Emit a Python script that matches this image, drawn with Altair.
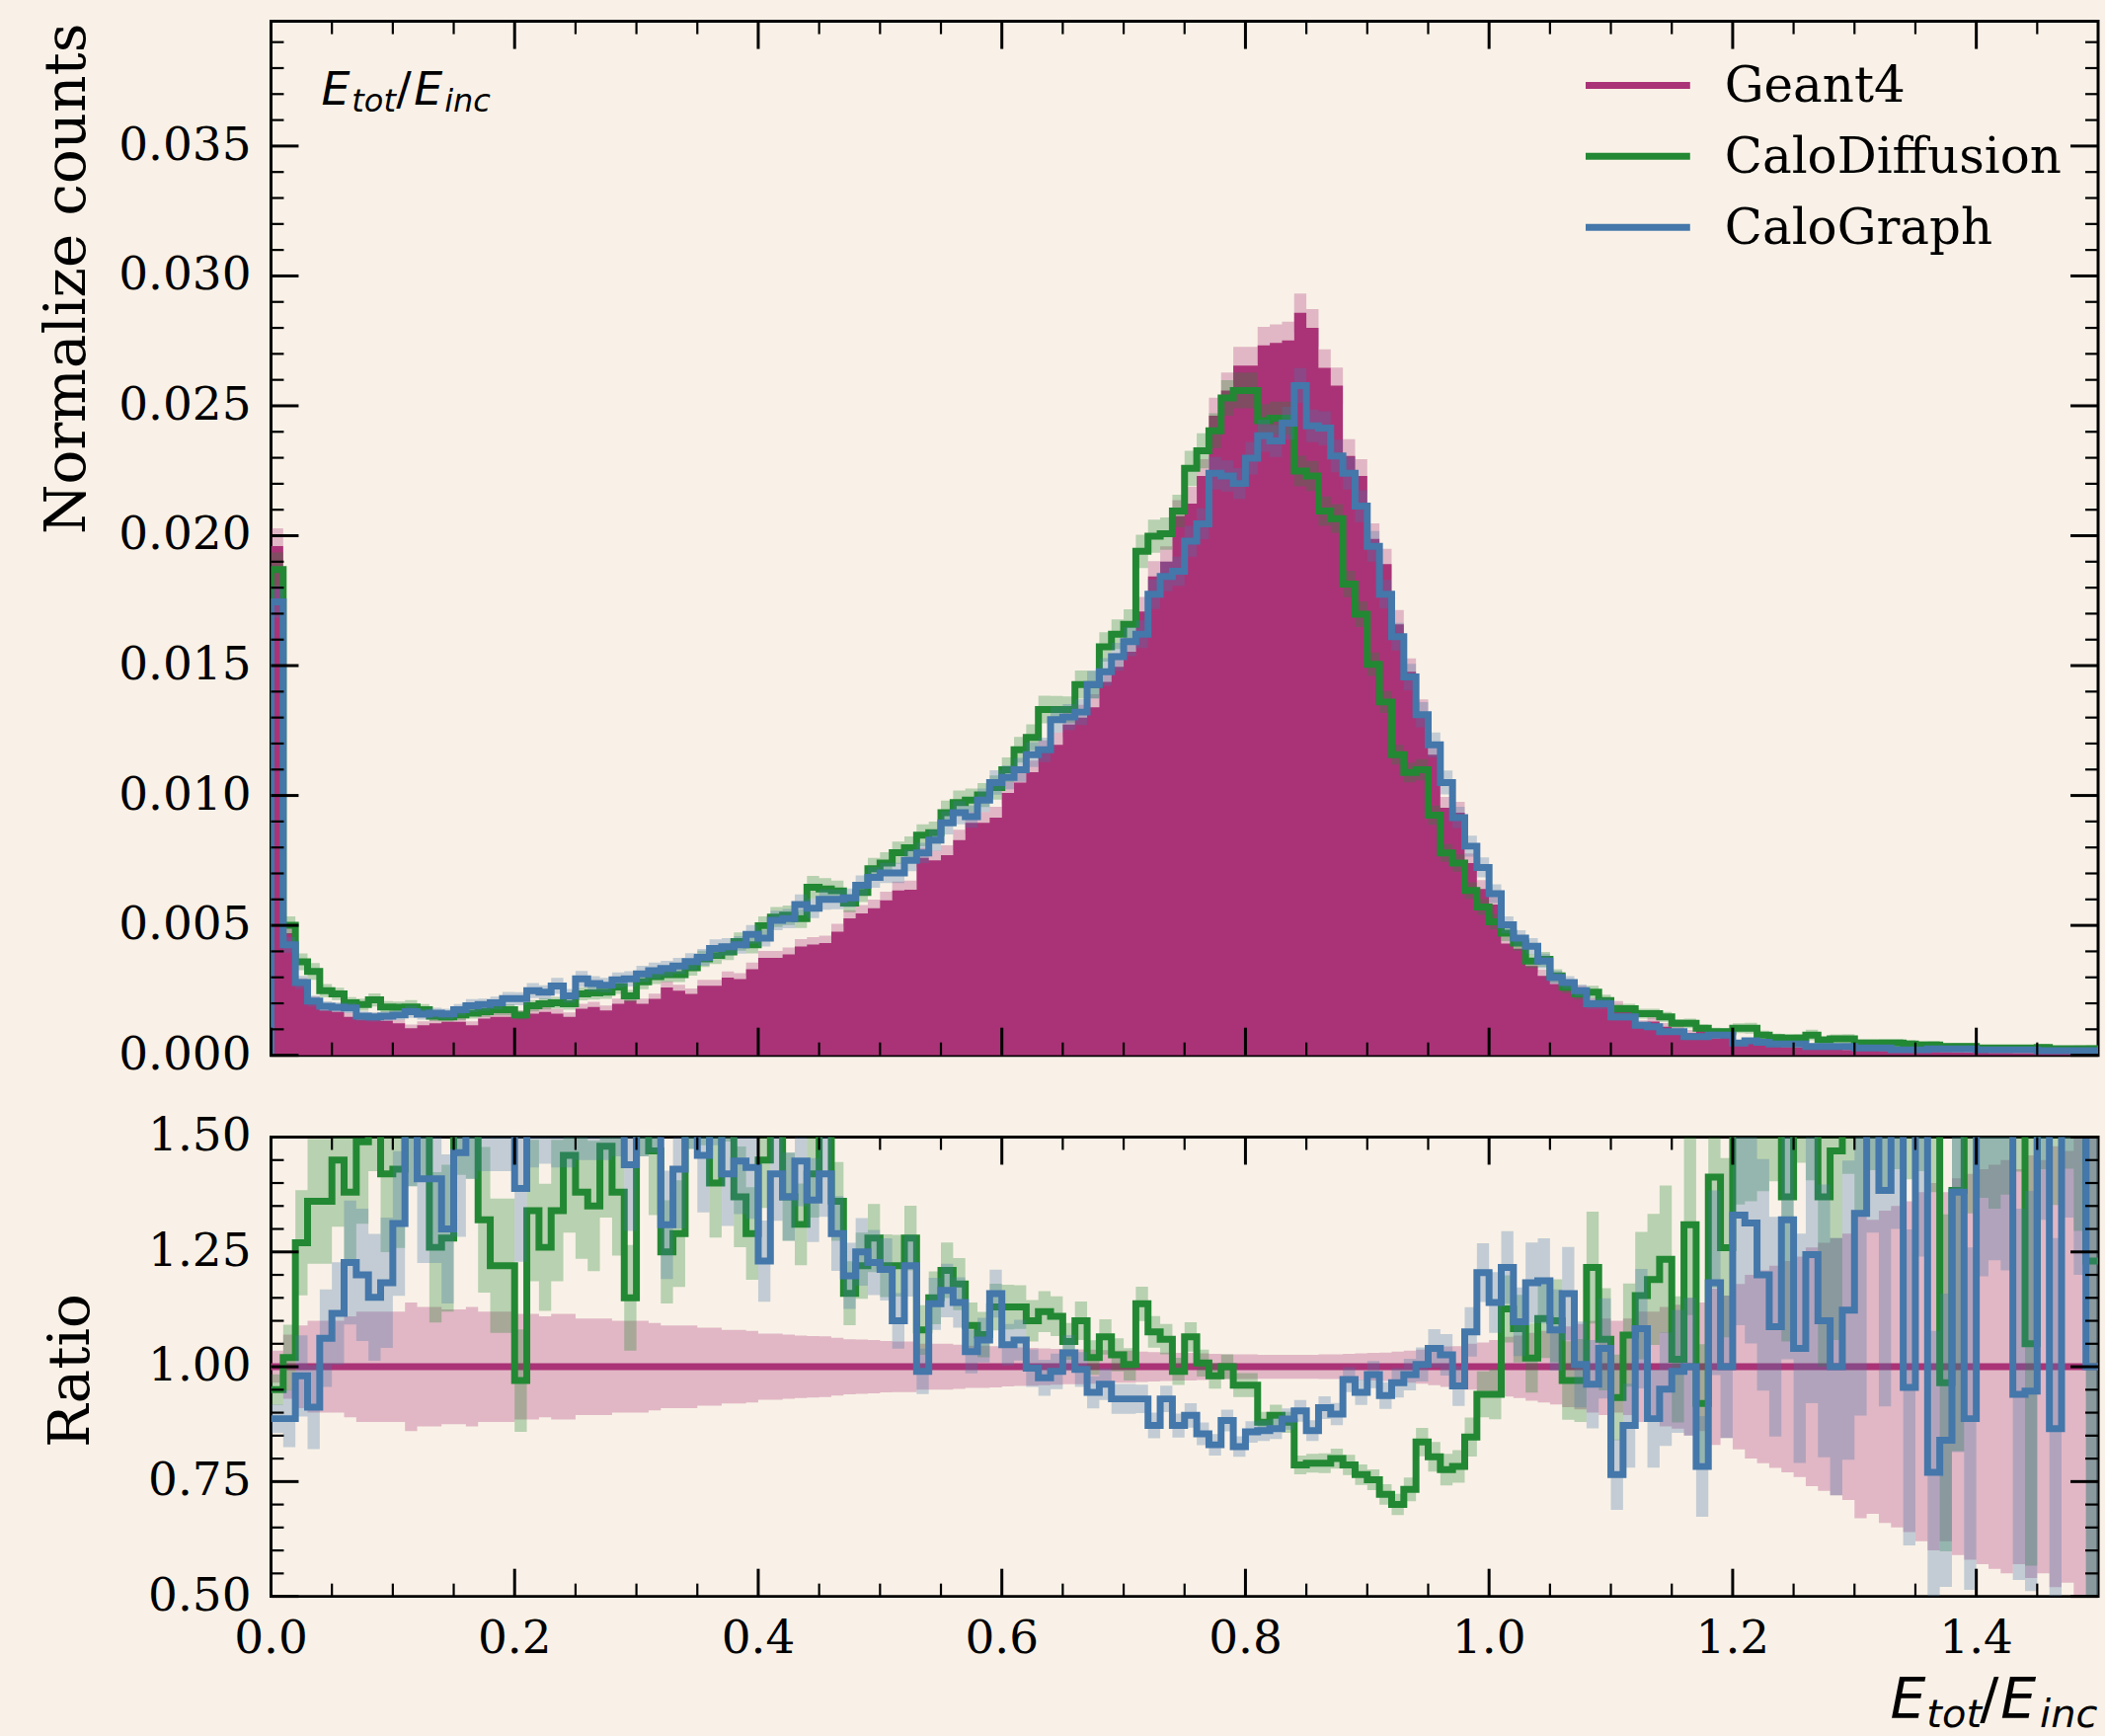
import altair as alt
import pandas as pd

# ---------------- data ----------------
bin_edges = [round(0.01 * i, 2) for i in range(151)]

geant4 = [
    0.0196, 0.0047, 0.00272, 0.00205, 0.00173, 0.00167, 0.00148, 0.00138, 0.00138, 0.00133,
    0.00123, 0.00104, 0.00116, 0.00123, 0.00129, 0.00129, 0.00116, 0.00141, 0.00148, 0.00148,
    0.00154, 0.0016, 0.00167, 0.0016, 0.00148, 0.00179, 0.00186, 0.00173, 0.00198, 0.00211,
    0.00198, 0.00217, 0.00261, 0.00249, 0.00236, 0.00268, 0.00268, 0.00299, 0.00293, 0.00331,
    0.00375, 0.00375, 0.00388, 0.00419, 0.00426, 0.00432, 0.00476, 0.00527, 0.00546, 0.00566,
    0.00596, 0.00634, 0.00637, 0.0076, 0.0075, 0.0077, 0.00828, 0.00895, 0.00895, 0.00915,
    0.0101, 0.0105, 0.0109, 0.01166, 0.01195, 0.01273, 0.0130, 0.0134, 0.01437, 0.01495,
    0.01553, 0.01708, 0.01843, 0.0190, 0.02075, 0.02124, 0.0223, 0.02462, 0.02559, 0.02655,
    0.02655, 0.02733, 0.02742, 0.02752, 0.02858, 0.0280, 0.02646, 0.02578, 0.02307, 0.0223,
    0.01988, 0.01891, 0.01659, 0.01476, 0.01321, 0.01157, 0.00953, 0.00934, 0.0074, 0.0064,
    0.0058, 0.0043, 0.0041, 0.00344, 0.00306, 0.00274, 0.00255, 0.00245, 0.0020, 0.0019,
    0.0019, 0.0017, 0.0012, 0.0013, 0.0011, 0.0010, 0.00085, 0.00095, 0.00065, 0.00075,
    0.0005, 0.00045, 0.0004, 0.00036, 0.00032, 0.0003, 0.00027, 0.00025, 0.00023, 0.00021,
    0.0002, 0.00018, 0.00017, 0.00016, 0.00015, 0.00014, 0.00013, 0.00012, 0.00011, 0.0001,
    0.0001, 0.00009, 0.00009, 0.00008, 0.00008, 0.00007, 0.00007, 0.00006, 0.00006, 0.00005,
]

calodiffusion = [
    0.0187, 0.0050, 0.0036, 0.00323, 0.00249, 0.00236, 0.00202, 0.00195, 0.00213, 0.00186,
    0.00185, 0.00186, 0.00175, 0.00151, 0.00148, 0.00155, 0.00162, 0.00168, 0.00175, 0.00175,
    0.00155, 0.00191, 0.00198, 0.00202, 0.00198, 0.00236, 0.0024, 0.00243, 0.00263, 0.00229,
    0.00283, 0.00303, 0.0031, 0.0031, 0.00337, 0.00371, 0.00384, 0.00398, 0.00438, 0.00425,
    0.00499, 0.00532, 0.00539, 0.00526, 0.00647, 0.0064, 0.00633, 0.00586, 0.00627, 0.00718,
    0.0074, 0.0078, 0.00799, 0.00847, 0.00857, 0.00934, 0.00973, 0.00982, 0.01002, 0.01031,
    0.01099, 0.01176, 0.01224, 0.01331, 0.01331, 0.01331, 0.01427, 0.01427, 0.01572, 0.01621,
    0.01659, 0.0194, 0.01998, 0.02008, 0.02095, 0.02259, 0.02327, 0.02404, 0.0253, 0.02559,
    0.02559, 0.02443, 0.02452, 0.02452, 0.02249, 0.0223, 0.02095, 0.02066, 0.01814, 0.01698,
    0.01505, 0.0136, 0.01157, 0.01089, 0.01099, 0.00924, 0.00779, 0.0074, 0.00634, 0.00571,
    0.00514, 0.0047, 0.00432, 0.00363, 0.00369, 0.00306, 0.00262, 0.00236, 0.00243, 0.00211,
    0.00179, 0.00179, 0.0016, 0.0016, 0.00148, 0.00123, 0.00123, 0.00104, 0.00091, 0.00091,
    0.00104, 0.00104, 0.00078, 0.00068, 0.00066, 0.00066, 0.00078, 0.00059, 0.00063, 0.00063,
    0.00047, 0.00047, 0.00047, 0.00047, 0.00043, 0.0004, 0.0004, 0.00034, 0.00034, 0.00034,
    0.00028, 0.00028, 0.00028, 0.00028, 0.00028, 0.0003, 0.00025, 0.00025, 0.00025, 0.00025,
]

calograph = [
    0.01745, 0.00425, 0.0028, 0.00209, 0.00189, 0.00185, 0.00182, 0.00151, 0.00148, 0.00151,
    0.00155, 0.00168, 0.00158, 0.00162, 0.00159, 0.00175, 0.00191, 0.00195, 0.00202, 0.00218,
    0.00218, 0.00249, 0.00243, 0.00267, 0.00229, 0.00294, 0.00276, 0.0027, 0.0029, 0.00294,
    0.00313, 0.00326, 0.00334, 0.00344, 0.00361, 0.00377, 0.00411, 0.00418, 0.00425, 0.00465,
    0.00451, 0.00519, 0.00526, 0.0058, 0.00566, 0.006, 0.006, 0.00606, 0.00654, 0.00685,
    0.00702, 0.00702, 0.0075, 0.00779, 0.00828, 0.00895, 0.00934, 0.00919, 0.00982, 0.0105,
    0.0107, 0.01099, 0.01157, 0.01176, 0.01292, 0.01302, 0.01321, 0.01427, 0.01476, 0.01534,
    0.01592, 0.01621, 0.01775, 0.01843, 0.01863, 0.01979, 0.02046, 0.0224, 0.0223, 0.02201,
    0.02298, 0.02385, 0.02365, 0.02433, 0.02578, 0.02423, 0.02414, 0.02307, 0.0224, 0.02114,
    0.01959, 0.01775, 0.01611, 0.01456, 0.01311, 0.01195, 0.0105, 0.00915, 0.00805, 0.00723,
    0.00622, 0.00502, 0.00451, 0.0042, 0.00363, 0.003, 0.0028, 0.00249, 0.00198, 0.00198,
    0.00148, 0.00148, 0.00116, 0.0011, 0.00091, 0.00091, 0.00072, 0.00072, 0.00078, 0.00078,
    0.00047, 0.00056, 0.0005, 0.00043, 0.00043, 0.00043, 0.00034, 0.00034, 0.00034, 0.00034,
    0.00028, 0.00028, 0.00028, 0.00021, 0.00021, 0.00021, 0.00024, 0.00024, 0.00024, 0.00024,
    0.00021, 0.00021, 0.00021, 0.00021, 0.00021, 0.00018, 0.00018, 0.00018, 0.00018, 0.00018,
]

ratio_calodiffusion = [
    0.95, 1.02, 1.27, 1.36, 1.36, 1.45, 1.38, 1.49, 1.62, 1.42,
    1.43, 1.62, 1.62, 1.26, 1.28, 1.62, 1.62, 1.32, 1.22, 1.22,
    0.97, 1.34, 1.26, 1.34, 1.46, 1.38, 1.35, 1.48, 1.38, 1.15,
    1.62, 1.47, 1.25, 1.29, 1.62, 1.62, 1.40, 1.62, 1.37, 1.29,
    1.45, 1.62, 1.37, 1.31, 1.42, 1.62, 1.36, 1.16, 1.22, 1.28,
    1.22, 1.22, 1.28, 1.08, 1.15, 1.21, 1.18, 1.09, 1.07, 1.13,
    1.13, 1.13, 1.10, 1.12, 1.11, 1.055, 1.10, 1.02, 1.065, 1.026,
    1.005, 1.137, 1.076, 1.06, 0.99, 1.065, 1.008, 0.98, 1.0, 0.96,
    0.96, 0.879, 0.894, 0.879, 0.786, 0.79, 0.79, 0.80, 0.786, 0.765,
    0.754, 0.722, 0.70, 0.733, 0.836, 0.804, 0.776, 0.783, 0.847, 0.94,
    0.94, 1.126, 1.083, 1.019, 1.105, 1.10, 0.97, 0.97, 1.216, 1.06,
    0.933, 1.069, 1.155, 1.19, 1.234, 1.016, 1.309, 0.92, 1.413, 1.259,
    1.65, 1.7, 1.75, 1.8, 1.37, 1.9, 1.9, 1.37, 1.47, 2.0,
    2.0, 2.1, 2.1, 2.2, 2.2, 2.3, 2.3, 0.965, 1.384, 2.3,
    2.4, 2.4, 2.5, 2.5, 1.05, 2.6, 2.6, 2.7, 2.7, 1.23,
]

ratio_calograph = [
    0.887, 0.887, 0.98, 0.912, 1.062, 1.116, 1.227, 1.20, 1.151, 1.183,
    1.312, 1.62, 1.409, 1.409, 1.30, 1.466, 1.62, 1.62, 1.62, 1.62,
    1.388, 1.62, 1.62, 1.62, 1.62, 1.62, 1.62, 1.62, 1.62, 1.44,
    1.62, 1.62, 1.309, 1.43, 1.62, 1.46, 1.62, 1.42, 1.448, 1.434,
    1.23, 1.42, 1.37, 1.448, 1.363, 1.42, 1.29, 1.198, 1.25, 1.227,
    1.212, 1.10, 1.22, 0.99, 1.137, 1.166, 1.14, 1.033, 1.058, 1.159,
    1.048, 1.058, 0.997, 0.976, 0.99, 1.03, 0.994, 0.944, 0.962, 0.93,
    0.93, 0.93, 0.872, 0.93, 0.872, 0.894, 0.854, 0.83, 0.883, 0.826,
    0.858, 0.861, 0.865, 0.886, 0.904, 0.861, 0.911, 0.897, 0.972, 0.944,
    0.983, 0.937, 0.965, 0.983, 1.005, 1.04, 1.026, 0.958, 1.076, 1.205,
    1.14, 1.216, 1.098, 1.183, 1.187, 1.08, 1.159, 1.005, 0.962, 1.04,
    0.765, 0.872, 1.083, 0.887, 0.951, 0.99, 1.0, 0.783, 1.183, 1.0,
    1.33, 1.313, 1.20, 1.087, 1.32, 1.04, 1.244, 1.10, 1.0, 1.123,
    1.334, 1.9, 1.384, 2.0, 0.955, 2.0, 0.77, 0.84, 1.38, 0.887,
    2.1, 2.2, 2.2, 0.94, 0.947, 2.4, 0.865, 2.5, 2.5, 1.0,
]

# relative statistical uncertainty per bin (half width of the bands)
rel_err = [
    0.035, 0.07, 0.09, 0.10, 0.10, 0.10, 0.11, 0.12, 0.12, 0.12,
    0.12, 0.14, 0.13, 0.13, 0.125, 0.125, 0.13, 0.12, 0.12, 0.12,
    0.115, 0.115, 0.11, 0.115, 0.115, 0.105, 0.105, 0.105, 0.10, 0.10,
    0.10, 0.095, 0.09, 0.09, 0.09, 0.085, 0.085, 0.08, 0.08, 0.078,
    0.072, 0.072, 0.07, 0.068, 0.067, 0.066, 0.063, 0.06, 0.059, 0.058,
    0.056, 0.055, 0.055, 0.05, 0.05, 0.05, 0.048, 0.046, 0.046, 0.045,
    0.043, 0.042, 0.041, 0.04, 0.039, 0.038, 0.038, 0.037, 0.036, 0.035,
    0.035, 0.033, 0.032, 0.031, 0.03, 0.03, 0.029, 0.028, 0.027, 0.027,
    0.027, 0.026, 0.026, 0.026, 0.026, 0.026, 0.027, 0.027, 0.028, 0.029,
    0.03, 0.031, 0.033, 0.035, 0.037, 0.04, 0.044, 0.045, 0.05, 0.053,
    0.058, 0.065, 0.068, 0.074, 0.078, 0.082, 0.088, 0.093, 0.10, 0.105,
    0.10, 0.105, 0.12, 0.12, 0.13, 0.135, 0.15, 0.14, 0.17, 0.155,
    0.18, 0.2, 0.21, 0.22, 0.23, 0.24, 0.26, 0.27, 0.28, 0.29,
    0.33, 0.32, 0.34, 0.35, 0.36, 0.38, 0.40, 0.38, 0.41, 0.42,
    0.43, 0.44, 0.45, 0.43, 0.46, 0.45, 0.48, 0.47, 0.52, 0.6,
]

reference_level = [1.0] * 150

series_names = ["Geant4", "CaloDiffusion", "CaloGraph"]
series_colors = ["#AA3377", "#228833", "#4477AA"]

x_major = [0.0, 0.2, 0.4, 0.6, 0.8, 1.0, 1.2, 1.4]
x_labels = ["0.0", "0.2", "0.4", "0.6", "0.8", "1.0", "1.2", "1.4"]
x_minor = [round(0.05 * k, 2) for k in range(1, 30) if k % 4]
yt_major = [0.0, 0.005, 0.010, 0.015, 0.020, 0.025, 0.030, 0.035]
yt_labels = ["0.000", "0.005", "0.010", "0.015", "0.020", "0.025", "0.030", "0.035"]
yt_minor = [round(0.001 * k, 3) for k in range(1, 40) if k % 5]
yr_major = [0.5, 0.75, 1.0, 1.25, 1.5]
yr_labels = ["0.50", "0.75", "1.00", "1.25", "1.50"]
yr_minor = [round(0.5 + 0.05 * k, 2) for k in range(1, 20) if k % 5]

# ---------------- styling ----------------
BG = "#F9F1E7"
W, HT, HR = 1854, 1049, 466
LW = 7
SERIF = "DejaVu Serif"
SANS = "DejaVu Sans"
TICK_FS = 47
TITLE_FS = 58

X = alt.Scale(domain=[0, 1.5], nice=False, zero=False)
YT = alt.Scale(domain=[0, 0.0398], nice=False, zero=False)
YR = alt.Scale(domain=[0.5, 1.5], nice=False, zero=False)

lefts = bin_edges[:-1]
end = bin_edges[-1]


def stairs(vals):
    xs = lefts + [end]
    ys = list(vals) + [vals[-1]]
    return pd.DataFrame({"x": xs, "y": ys, "o": list(range(len(xs)))})


def outline(vals):
    xs = [lefts[0]] + lefts + [end, end]
    ys = [0.0] + list(vals) + [vals[-1], 0.0]
    return pd.DataFrame({"x": xs, "y": ys, "o": list(range(len(xs)))})


def band(center, rel):
    lo = [c * (1 - r) for c, r in zip(center, rel)]
    hi = [c * (1 + r) for c, r in zip(center, rel)]
    return pd.DataFrame({"x": lefts + [end], "lo": lo + [lo[-1]], "hi": hi + [hi[-1]]})


def band_layer(df, color, ys):
    return alt.Chart(df).mark_area(
        interpolate="step-after", color=color, opacity=0.3, clip=True
    ).encode(
        x=alt.X("x:Q", scale=X, axis=None),
        y=alt.Y("lo:Q", scale=ys, axis=None),
        y2="hi:Q",
    )


def line_layer(df, color, ys):
    return alt.Chart(df).mark_line(
        interpolate="step-after", color=color, strokeWidth=LW, clip=True, strokeJoin="miter"
    ).encode(
        x=alt.X("x:Q", scale=X, axis=None),
        y=alt.Y("y:Q", scale=ys, axis=None),
        order=alt.Order("o:Q"),
    )


def rule_x(vals, y1, y2, width):
    return alt.Chart(pd.DataFrame({"v": vals})).mark_rule(color="black", strokeWidth=width).encode(
        x=alt.X("v:Q", scale=X, axis=None), y=alt.value(y1), y2=alt.value(y2)
    )


def rule_y(vals, ys, x1, x2, width):
    return alt.Chart(pd.DataFrame({"v": vals})).mark_rule(color="black", strokeWidth=width).encode(
        y=alt.Y("v:Q", scale=ys, axis=None), x=alt.value(x1), x2=alt.value(x2)
    )


def text(txt, x, y, size, font=SERIF, style="normal", align="left", angle=0):
    return alt.Chart(pd.DataFrame({"t": [txt]})).mark_text(
        align=align, baseline="alphabetic", font=font, fontSize=size,
        fontStyle=style, color="black", angle=angle
    ).encode(x=alt.value(x), y=alt.value(y), text="t:N")


def y_labels(vals, labs, ys):
    return alt.Chart(pd.DataFrame({"v": vals, "lab": labs})).mark_text(
        align="right", baseline="middle", font=SERIF, fontSize=TICK_FS, color="black"
    ).encode(y=alt.Y("v:Q", scale=ys, axis=None), x=alt.value(-20), text="lab:N")


def x_labels_layer(vals, labs, H):
    return alt.Chart(pd.DataFrame({"v": vals, "lab": labs})).mark_text(
        align="center", baseline="top", font=SERIF, fontSize=TICK_FS, color="black"
    ).encode(x=alt.X("v:Q", scale=X, axis=None), y=alt.value(H + 20), text="lab:N")


def spacer(x1, x2, y1, y2):
    # invisible mark that fixes the outer bounds of a panel
    return alt.Chart(pd.DataFrame({"n": [0]})).mark_rule(strokeOpacity=0, strokeWidth=1).encode(
        x=alt.value(x1), x2=alt.value(x2), y=alt.value(y1), y2=alt.value(y2)
    )


MAJ, MIN = 28, 13
MAJW, MINW = 3, 2.2


def frame_ticks(H, ys, y_major, y_minor):
    return [
        rule_x(x_major, H, H - MAJ, MAJW),
        rule_x(x_major, 0, MAJ, MAJW),
        rule_x(x_minor, H, H - MIN, MINW),
        rule_x(x_minor, 0, MIN, MINW),
        rule_y(y_major, ys, 0, MAJ, MAJW),
        rule_y(y_major, ys, W - MAJ, W, MAJW),
        rule_y(y_minor, ys, 0, MIN, MINW),
        rule_y(y_minor, ys, W - MIN, W, MINW),
    ]


# ---------------- top panel ----------------
g4_fill = alt.Chart(stairs(geant4)).mark_area(
    interpolate="step-after", color=series_colors[0], opacity=1, clip=True
).encode(
    x=alt.X("x:Q", scale=X, axis=None),
    y=alt.Y("y:Q", scale=YT, axis=None),
)

top_layers = [
    band_layer(band(geant4, rel_err), series_colors[0], YT),
    g4_fill,
    band_layer(band(calodiffusion, rel_err), series_colors[1], YT),
    line_layer(outline(calodiffusion), series_colors[1], YT),
    band_layer(band(calograph, rel_err), series_colors[2], YT),
    line_layer(outline(calograph), series_colors[2], YT),
]
top_layers += frame_ticks(HT, YT, yt_major, yt_minor)
top_layers.append(y_labels(yt_major, yt_labels, YT))
top_layers.append(text("Normalize counts", -189, 2, TITLE_FS, align="right", angle=270))

# legend
legend_rows = [65, 137, 209]
for name, color, yy in zip(series_names, series_colors, legend_rows):
    top_layers.append(
        alt.Chart(pd.DataFrame({"n": [name]})).mark_rule(color=color, strokeWidth=7).encode(
            x=alt.value(1334), x2=alt.value(1440), y=alt.value(yy)
        )
    )
    top_layers.append(text(name, 1475, yy + 17, 50))

# E_tot/E_inc annotation (top-left)
top_layers += [
    text("E", 51, 85, 46, SANS, "italic"),
    text("tot", 82, 92, 32, SANS, "italic"),
    text("/", 127, 85, 46, SANS),
    text("E", 145, 85, 46, SANS, "italic"),
    text("inc", 176, 92, 32, SANS, "italic"),
]
top_layers.append(spacer(-260, W + 3, -10, HT + 30))

top = alt.layer(*top_layers).properties(width=W, height=HT)

# ---------------- ratio panel ----------------
rat_layers = [
    band_layer(band(reference_level, rel_err), series_colors[0], YR),
    alt.Chart(pd.DataFrame({"y": [1.0]})).mark_rule(color=series_colors[0], strokeWidth=LW).encode(
        y=alt.Y("y:Q", scale=YR, axis=None), x=alt.value(0), x2=alt.value(W)
    ),
    band_layer(band(ratio_calodiffusion, rel_err), series_colors[1], YR),
    line_layer(stairs(ratio_calodiffusion), series_colors[1], YR),
    band_layer(band(ratio_calograph, rel_err), series_colors[2], YR),
    line_layer(stairs(ratio_calograph), series_colors[2], YR),
]
rat_layers += frame_ticks(HR, YR, yr_major, yr_minor)
rat_layers.append(y_labels(yr_major, yr_labels, YR))
rat_layers.append(x_labels_layer(x_major, x_labels, HR))
rat_layers.append(text("Ratio", -185, 237, TITLE_FS, align="center", angle=270))

# x-axis title E_tot/E_inc (bottom right)
rat_layers += [
    text("E", 1643, 590, 57, SANS, "italic"),
    text("tot", 1680, 599, 40, SANS, "italic"),
    text("/", 1734, 590, 57, SANS),
    text("E", 1755, 590, 57, SANS, "italic"),
    text("inc", 1795, 599, 40, SANS, "italic"),
]
rat_layers.append(spacer(-260, W + 3, -30, 608))

bottom = alt.layer(*rat_layers).properties(width=W, height=HR)

chart = (
    alt.vconcat(top, bottom, spacing=19)
    .properties(padding={"left": 13, "top": 8, "right": 2, "bottom": 4})
    .configure(background=BG, font=SERIF)
    .configure_view(stroke="black", strokeWidth=3)
)

chart.save("out.html", embed_options={"renderer": "svg", "actions": False})
